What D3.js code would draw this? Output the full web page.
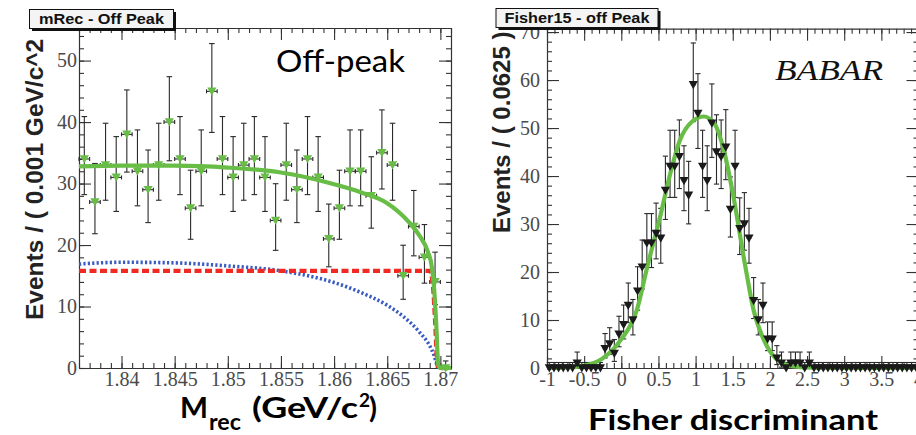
<!DOCTYPE html>
<html><head><meta charset="utf-8">
<script src="https://cdn.jsdelivr.net/npm/d3@7"></script>
<style>body{margin:0;background:#fff} svg{display:block}</style>
</head><body>
<svg id="chart" width="916" height="435"></svg>
<script>
// ---------- Left panel data (mRec, off peak) ----------
const mrecCenters = [1.8365,1.8375,1.8385,1.8395,1.8405,1.8415,1.8425,1.8435,1.8445,1.8455,
  1.8465,1.8475,1.8485,1.8495,1.8505,1.8515,1.8525,1.8535,1.8545,1.8555,
  1.8565,1.8575,1.8585,1.8595,1.8605,1.8615,1.8625,1.8635,1.8645,1.8655,
  1.8665,1.8675,1.8685,1.8695,1.8705];
const mrecCounts = [34,27,33,31,38,32,29,33,40,34,26,32,45,34,31,33,34,31,24,33,
  29,34,31,21,26,32,32,28,35,33,15,23,18,14,0];
const mrecBinHalf = 0.0005;
const totalFitM = [1.836,1.840,1.845,1.850,1.855,1.860,1.8625,1.865,1.867,1.868,1.8688,1.8692,1.8694,1.8696,1.8698,1.8700,1.871];
const totalFitV = [32.8,32.9,32.9,32.6,31.8,29.9,28.6,26.8,23.8,21.6,19.0,16.4,13.2,7.5,0.6,0,0];
const argusM = [1.836,1.840,1.845,1.850,1.855,1.860,1.8625,1.865,1.8665,1.868,1.869,1.8694,1.8697,1.8698];
const argusV = [16.9,17.2,17.1,16.6,15.8,13.9,12.3,10.2,8.4,5.9,3.6,2.1,0.4,0];
const flatM = [1.836,1.8690,1.8693,1.8695,1.8697,1.8698,1.871];
const flatV = [15.8,15.8,13.5,8.0,1.0,0,0];
const xTicksL = [1.84,1.845,1.85,1.855,1.86,1.865,1.87];
const xTickLabelsL = ["1.84","1.845","1.85","1.855","1.86","1.865","1.87"];
const yTicksL = [0,10,20,30,40,50];
const yTickLabelsL = ["0","10","20","30","40","50"];

// ---------- Right panel data (Fisher, off peak) ----------
const fisherCenters = [-0.96875,-0.90625,-0.84375,-0.78125,-0.71875,-0.65625,-0.59375,-0.53125,-0.46875,-0.40625,
  -0.34375,-0.28125,-0.21875,-0.15625,-0.09375,-0.03125,0.03125,0.09375,0.15625,0.21875,
  0.28125,0.34375,0.40625,0.46875,0.53125,0.59375,0.65625,0.71875,0.78125,0.84375,
  0.90625,0.96875,1.03125,1.09375,1.15625,1.21875,1.28125,1.34375,1.40625,1.46875,
  1.53125,1.59375,1.65625,1.71875,1.78125,1.84375,1.90625,1.96875,2.03125,2.09375,
  2.15625,2.21875,2.28125,2.34375,2.40625,2.46875,2.53125,2.59375,2.65625,2.71875,
  2.78125,2.84375,2.90625,2.96875,3.03125,3.09375,3.15625,3.21875,3.28125,3.34375,
  3.40625,3.46875,3.53125,3.59375,3.65625,3.71875,3.78125,3.84375,3.90625,3.96875];
const fisherCounts = [0,0,0,0,0,0,1,0,0,0,
  0,0,4,5,3,7,9,13,10,16,
  21,26,26,28,27,37,42,42,44,39,
  36,59,53,42,39,51,45,44,46,33,
  42,29,30,27,14,10,13,6,6,2,
  1,0,1,1,1,0,1,0,0,0,
  0,0,0,0,0,0,0,0,0,0,
  0,0,0,0,0,0,0,0,0,0];
const fisherBinHalf = 0.03125;
const fisherFitX = [-1.0,-0.75,-0.5,-0.25,-0.01,0.21,0.35,0.53,0.66,0.79,0.95,1.11,1.25,1.38,1.50,1.67,1.78,1.92,2.10,2.30,2.6,3.0,4.0];
const fisherFitV = [0.0,0.1,0.5,2.0,5.8,12.1,21.1,32.0,40.6,47.5,51.3,52.4,51.0,45.4,36.5,21.1,12.1,5.8,1.7,0.4,0.05,0,0];
const xTicksR = [-1,-0.5,0,0.5,1,1.5,2,2.5,3,3.5,4];
const xTickLabelsR = ["-1","-0.5","0","0.5","1","1.5","2","2.5","3","3.5","4"];
const yTicksR = [0,10,20,30,40,50,60,70];
const yTickLabelsR = ["0","10","20","30","40","50","60","70"];

// ---------- helpers ----------
const GREEN = "#68bd46", RED = "#f02a22", BLUE = "#3a5cc2", AXIS = "#333";
function poisson(n){
  if(n===0) return [0,1.148];
  const lo = n*Math.pow(1-1/(9*n)-1/(3*Math.sqrt(n)),3);
  const hi = n+Math.sqrt(n+0.75)+1;
  return [lo,hi];
}
const svg = d3.select("#chart");
svg.append("rect").attr("width",916).attr("height",435).attr("fill","#fff");

function axes(g, x, y, o){
  const [x0,x1] = x.range(), [y0,y1] = y.range();
  const styleAx = sel => { sel.attr("font-family",null).attr("font-size",null);
    sel.select(".domain").attr("stroke",AXIS).attr("stroke-width",1.2);
    sel.selectAll(".tick line").attr("stroke",AXIS).attr("stroke-width",1.1);
    sel.selectAll("text").style("font-family","'Liberation Serif', serif").style("font-size","20px").attr("fill","#4a4a4a"); };
  const noDom = sel => sel.select(".domain").remove();
  const fx = d => o.xLabels[o.xMajor.indexOf(d)], fy = d => o.yLabels[o.yMajor.indexOf(d)];
  // bottom
  g.append("g").attr("transform",`translate(0,${y0})`).call(d3.axisBottom(x).tickValues(o.xMinor).tickSize(-5).tickFormat("")).call(noDom).call(styleAx);
  g.append("g").attr("transform",`translate(0,${y0})`).call(d3.axisBottom(x).tickValues(o.xMajor).tickSize(-12).tickSizeOuter(0).tickPadding(4).tickFormat(fx)).call(styleAx);
  // top
  g.append("g").attr("transform",`translate(0,${y1})`).call(d3.axisTop(x).tickValues(o.xMinor).tickSize(-5).tickFormat("")).call(noDom).call(styleAx);
  g.append("g").attr("transform",`translate(0,${y1})`).call(d3.axisTop(x).tickValues(o.xMajor).tickSize(-12).tickSizeOuter(0).tickFormat("")).call(styleAx);
  // left
  g.append("g").attr("transform",`translate(${x0},0)`).call(d3.axisLeft(y).tickValues(o.yMinor).tickSize(-5).tickFormat("")).call(noDom).call(styleAx);
  g.append("g").attr("transform",`translate(${x0},0)`).call(d3.axisLeft(y).tickValues(o.yMajor).tickSize(-12).tickSizeOuter(0).tickPadding(o.yPad).tickFormat(fy)).call(styleAx);
  // right
  g.append("g").attr("transform",`translate(${x1},0)`).call(d3.axisRight(y).tickValues(o.yMinor).tickSize(-5).tickFormat("")).call(noDom).call(styleAx);
  g.append("g").attr("transform",`translate(${x1},0)`).call(d3.axisRight(y).tickValues(o.yMajor).tickSize(-12).tickSizeOuter(0).tickFormat("")).call(styleAx);
}

function points(g, x, y, centers, counts, half, capW, hCap){
  const d = centers.map((c,i)=>({c, n:counts[i], e:poisson(counts[i])}));
  const eb = g.append("g").attr("stroke","#2a2a2a").attr("stroke-width",1.1);
  d.forEach(p=>{
    const cx = x(p.c);
    eb.append("line").attr("x1",cx).attr("x2",cx).attr("y1",y(p.e[0])).attr("y2",y(p.e[1]));
    eb.append("line").attr("x1",cx-capW).attr("x2",cx+capW).attr("y1",y(p.e[1])).attr("y2",y(p.e[1]));
    if(p.n>0) eb.append("line").attr("x1",cx-capW).attr("x2",cx+capW).attr("y1",y(p.e[0])).attr("y2",y(p.e[0]));
    const xl = x(p.c-half), xr = x(p.c+half), cy = y(p.n);
    eb.append("line").attr("x1",xl).attr("x2",xr).attr("y1",cy).attr("y2",cy);
    if(hCap){
      eb.append("line").attr("x1",xl).attr("x2",xl).attr("y1",cy-hCap).attr("y2",cy+hCap);
      eb.append("line").attr("x1",xr).attr("x2",xr).attr("y1",cy-hCap).attr("y2",cy+hCap);
    }
  });
  return d;
}
function markers(g, x, y, d, fill){
  g.append("g").selectAll("path").data(d).join("path")
    .attr("d", p => { const cx=x(p.c), cy=y(p.n); return `M${cx-4.6},${cy-3.8}L${cx+4.6},${cy-3.8}L${cx},${cy+4.4}Z`; })
    .attr("fill", fill);
}
function curve(g, x, y, xs, vs, color, width, dash){
  const line = d3.line().x(d=>x(d[0])).y(d=>y(d[1])).curve(d3.curveMonotoneX);
  const p = g.append("path").datum(xs.map((v,i)=>[v,vs[i]])).attr("d",line)
    .attr("fill","none").attr("stroke",color).attr("stroke-width",width);
  if(dash) p.attr("stroke-dasharray",dash);
}
function titleBox(x0,y0,w,h,text,tl){
  svg.append("rect").attr("x",x0+2.5).attr("y",y0+2.5).attr("width",w).attr("height",h).attr("fill","#111");
  svg.append("rect").attr("x",x0).attr("y",y0).attr("width",w).attr("height",h).attr("fill","#f4f4f4").attr("stroke","#111").attr("stroke-width",1);
  svg.append("text").attr("x",x0+w/2).attr("y",y0+h-4.5).attr("text-anchor","middle")
    .attr("font-family","Liberation Sans").attr("font-weight","bold").attr("font-size",15.5)
    .attr("textLength",tl).attr("lengthAdjust","spacingAndGlyphs").attr("fill","#111").text(text);
}

// ---------- Left panel ----------
const xL = d3.scaleLinear().domain([1.836,1.871]).range([79,451]);
const yL = d3.scaleLinear().domain([0,55.3]).range([368,28]);
const gL = svg.append("g");
axes(gL, xL, yL, {xMajor:xTicksL, xLabels:xTickLabelsL, xMinor:d3.range(1.836,1.8712,0.001),
  yMajor:yTicksL, yLabels:yTickLabelsL, yMinor:d3.range(0,55,2), yPad:2});
const dL = points(gL, xL, yL, mrecCenters, mrecCounts, mrecBinHalf, 2.8, 2);
curve(gL, xL, yL, argusM, argusV, BLUE, 3.6, "2.2,2.2");
curve(gL, xL, yL, flatM, flatV, RED, 4.4, "7,3.5");
curve(gL, xL, yL, totalFitM, totalFitV, GREEN, 4.2);
markers(gL, xL, yL, dL, GREEN);

// ---------- Right panel ----------
const xR = d3.scaleLinear().domain([-1,4]).range([547,918.5]);
const yR = d3.scaleLinear().domain([0,70.7]).range([368,28.7]);
const gR = svg.append("g");
axes(gR, xR, yR, {xMajor:xTicksR, xLabels:xTickLabelsR, xMinor:d3.range(-1,4.01,0.1),
  yMajor:yTicksR, yLabels:yTickLabelsR, yMinor:d3.range(0,71,2), yPad:7});
const dR = points(gR, xR, yR, fisherCenters, fisherCounts, fisherBinHalf, 2.6, 0);
curve(gR, xR, yR, fisherFitX, fisherFitV, GREEN, 4.2);
markers(gR, xR, yR, dR, "#1a1a1a");

// ---------- Texts ----------
svg.append("text").attr("transform","translate(43,320) rotate(-90)")
  .attr("font-family","Liberation Sans").attr("font-weight","bold").attr("font-size",24.5).attr("fill","#222")
  .text("Events / ( 0.001 GeV/c^2");
svg.append("text").attr("transform","translate(510,233) rotate(-90)")
  .attr("font-family","Liberation Sans").attr("font-weight","bold").attr("font-size",24).attr("fill","#222")
  .text("Events / ( 0.0625 )");
titleBox(29.5,9.5,144,19,"mRec - Off Peak",125);
titleBox(496,8.5,162,19,"Fisher15 - off Peak",145);

svg.append("text").attr("x",276).attr("y",71.7).attr("font-family","Lato").attr("font-size",30)
  .attr("textLength",129).attr("lengthAdjust","spacingAndGlyphs").attr("fill","#000").text("Off-peak");
svg.append("text").attr("x",775).attr("y",80).attr("font-family","Liberation Serif").attr("font-style","italic")
  .attr("font-size",29).attr("textLength",108).attr("lengthAdjust","spacingAndGlyphs").attr("fill","#111").text("BABAR");

const xt = svg.append("text").attr("y",418).attr("font-family","Lato").attr("font-weight","bold")
  .attr("font-size",29).attr("fill","#000");
xt.append("tspan").attr("x",180).attr("textLength",28).attr("lengthAdjust","spacingAndGlyphs").text("M");
xt.append("tspan").attr("x",209).attr("font-size",22).attr("dy",12).attr("textLength",32).attr("lengthAdjust","spacingAndGlyphs").text("rec");
xt.append("tspan").attr("x",252).attr("dy",-12).attr("textLength",106).attr("lengthAdjust","spacingAndGlyphs").text("(GeV/c");
xt.append("tspan").attr("x",359).attr("font-size",19).attr("dy",-11).text("2");
xt.append("tspan").attr("x",369).attr("dy",11).text(")");
svg.append("text").attr("x",588).attr("y",430).attr("font-family","Lato").attr("font-weight","bold")
  .attr("font-size",28).attr("textLength",290).attr("lengthAdjust","spacingAndGlyphs").attr("fill","#000").text("Fisher discriminant");
</script></body></html>
